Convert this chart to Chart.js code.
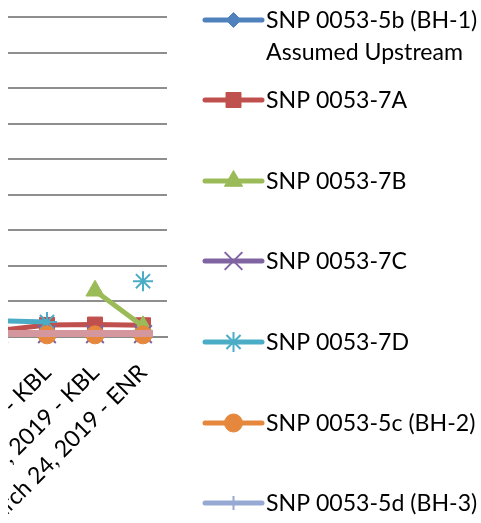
<!DOCTYPE html>
<html lang="en">
<head>
<meta charset="UTF-8">
<title>SNP 0053 monitoring</title>
<style>
  html, body { margin: 0; padding: 0; background: #fff; overflow: hidden; }
  #wrap { position: relative; width: 481px; height: 523px; overflow: hidden; }
  #chart { position: absolute; left: -200px; top: 0; }
  #edge { position: absolute; left: 0; top: 0; width: 8px; height: 523px; background: #fff; }
</style>
</head>
<body>
<div id="wrap">
  <canvas id="chart" width="681" height="523"></canvas>
  <div id="edge"></div>
</div>

<script src="https://cdn.jsdelivr.net/npm/chart.js"></script>
<script>
// how far the canvas is pushed off the left edge (the picture is a crop)
const SHIFT = 200;

const sampleDates = [
  'December 18, 2018 - KBL',
  'January 22, 2019 - KBL',
  'February 12, 2019 - KBL',
  'March 5, 2019 - KBL',
  'March 14, 2019 - KBL',
  'March 24, 2019 - ENR'
];

const yTicks = [0, 10, 20, 30, 40, 50, 60, 70, 80, 90];

// values per sample date
const bh1Upstream = [0.5, 0.4, null, null, null, null];
const snp7A = [2.0, 1.5, 1.8, 3.4, 3.5, 3.3];
const snp7B = [1.2, 1.0, null, null, 13.0, 3.0];
const snp7C = [0.8, 0.8, 0.8, 0.8, 0.8, 0.8];
const snp7D = [5.0, 3.5, 4.6, 4.2, null, 15.7];
const bh2 = [0.6, 0.6, 0.6, 0.6, 0.6, 0.6];
const bh3 = [1.0, 1.0, 1.0, 1.0, 1.0, 1.0];

const seriesNames = [
  ['SNP 0053-5b (BH-1)', 'Assumed Upstream'],
  ['SNP 0053-7A'],
  ['SNP 0053-7B'],
  ['SNP 0053-7C'],
  ['SNP 0053-7D'],
  ['SNP 0053-5c (BH-2)'],
  ['SNP 0053-5d (BH-3)']
];
const seriesValues = [bh1Upstream, snp7A, snp7B, snp7C, snp7D, bh2, bh3];
const lineColors = ['#4F81BD', '#C0504D', '#9BBB59', '#8064A2', '#4BACC6', '#E5883E', '#D4979D'];
const legendColors = ['#4F81BD', '#C0504D', '#9BBB59', '#8064A2', '#4BACC6', '#E5883E', '#95A9D3'];
const markers = ['rectRot', 'rect', 'triangle', 'crossRot', 'star', 'circle', 'line'];
const markerSize = [7.5, 10.6, 10.5, 12.5, 10, 9, 10];
const lineWidths = [5, 5, 5, 5, 5, 4, 7];

const legendRowY = [20, 100, 181, 261, 342, 423, 503];

// pick a Lato size so the first legend label is as wide as in the picture (~211px)
const probe = document.createElement('canvas').getContext('2d');
probe.font = '24px Lato';
const FONT_SIZE = Math.round(24 * 211 / probe.measureText('SNP 0053-5b (BH-1)').width * 10) / 10;

const sideLegend = {
  id: 'sideLegend',
  afterDraw(chart) {
    const ctx = chart.ctx;
    ctx.save();
    seriesNames.forEach((lines, i) => {
      const y = legendRowY[i];
      const x0 = SHIFT + 205, x1 = SHIFT + 262;
      ctx.strokeStyle = legendColors[i];
      ctx.fillStyle = legendColors[i];
      ctx.lineWidth = 5;
      ctx.lineCap = 'round';
      ctx.beginPath();
      ctx.moveTo(x0, y);
      ctx.lineTo(x1, y);
      ctx.stroke();
      ctx.lineCap = 'butt';
      const isTick = markers[i] === 'line';
      const filled = ['rectRot', 'rect', 'triangle', 'circle'].includes(markers[i]);
      ctx.lineWidth = filled ? 1 : 2;
      Chart.helpers.drawPoint(ctx, {
        pointStyle: markers[i],
        radius: isTick ? 7 : markerSize[i],
        rotation: isTick ? 90 : 0,
        borderWidth: filled ? 1 : 2
      }, (x0 + x1) / 2, y);

      ctx.fillStyle = '#000';
      ctx.font = FONT_SIZE + 'px Lato';
      ctx.textBaseline = 'middle';
      ctx.textAlign = 'left';
      lines.forEach((t, k) => ctx.fillText(t, SHIFT + 266, y + 1 + k * 32));
    });
    ctx.restore();
  }
};

const datasets = seriesValues.map((vals, i) => ({
  label: seriesNames[i].join(' '),
  data: vals,
  borderColor: lineColors[i],
  backgroundColor: lineColors[i],
  borderWidth: lineWidths[i],
  pointStyle: markers[i],
  pointRadius: markerSize[i],
  pointHoverRadius: markerSize[i],
  pointBackgroundColor: lineColors[i],
  pointBorderColor: lineColors[i],
  pointBorderWidth: ['crossRot', 'star'].includes(markers[i]) ? 2 : (markers[i] === 'line' ? 7 : 1),
  spanGaps: false,
  tension: 0,
  clip: false,
  order: seriesValues.length - i
}));

new Chart(document.getElementById('chart'), {
  type: 'line',
  data: { labels: sampleDates, datasets: datasets },
  options: {
    responsive: false,
    animation: false,
    devicePixelRatio: 1,
    layout: { padding: { top: 11, right: 314, bottom: 0, left: 0 } },
    plugins: { legend: { display: false }, tooltip: { enabled: false } },
    scales: {
      x: {
        offset: true,
        grid: { display: false, drawTicks: false },
        border: { display: true, color: '#8a8a8a', width: 2 },
        ticks: {
          autoSkip: false,
          minRotation: 45,
          maxRotation: 45,
          padding: 22,
          labelOffset: 0,
          color: '#000',
          font: { family: 'Lato', size: FONT_SIZE }
        },
        afterFit(scale) {
          scale.height = 186;
          scale.paddingLeft = 0;
          scale.paddingRight = 0;
        }
      },
      y: {
        min: yTicks[0],
        max: yTicks[yTicks.length - 1],
        afterBuildTicks(scale) {
          scale.ticks = yTicks.map(v => ({ value: v }));
        },
        grid: { color: '#8e8e8e', lineWidth: 2, drawTicks: false },
        border: { display: false },
        ticks: { color: '#000', font: { family: 'Lato', size: FONT_SIZE } },
        afterFit(scale) {
          scale.width = 79;
          scale.paddingTop = 0;
          scale.paddingBottom = 0;
        }
      }
    }
  },
  plugins: [sideLegend]
});
</script>
</body>
</html>
